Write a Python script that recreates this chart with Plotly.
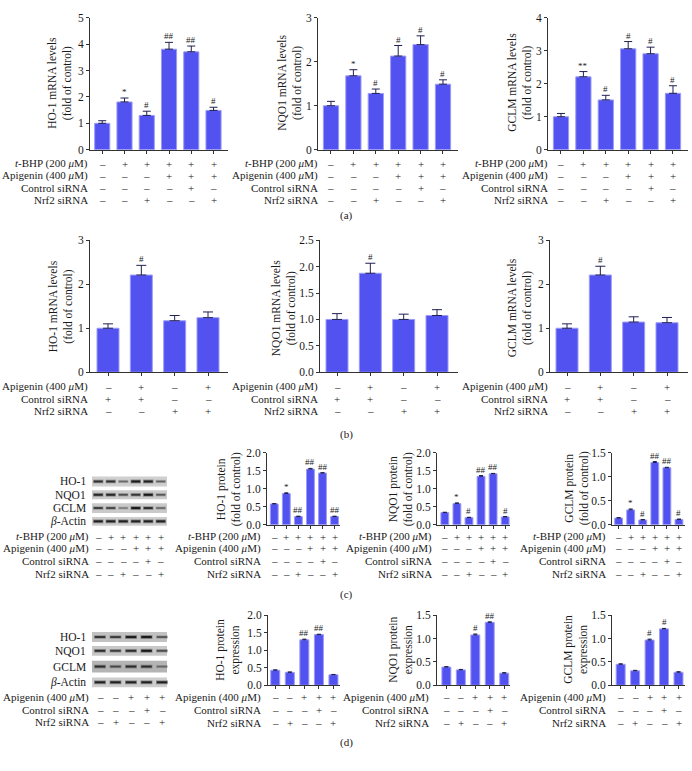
import plotly.graph_objects as go

W, H = 692, 771

# ---------------- data ----------------
# (a) mRNA, t-BHP / apigenin / siRNA
a_ho1_vals = [1.00, 1.81, 1.30, 3.81, 3.71, 1.49]
a_ho1_err = [0.10, 0.15, 0.16, 0.26, 0.22, 0.12]
a_ho1_sig = ["", "*", "#", "##", "##", "#"]
a_nqo1_vals = [1.00, 1.68, 1.28, 2.13, 2.39, 1.49]
a_nqo1_err = [0.10, 0.14, 0.10, 0.24, 0.20, 0.10]
a_nqo1_sig = ["", "*", "#", "#", "#", "#"]
a_gclm_vals = [1.00, 2.21, 1.51, 3.06, 2.91, 1.71]
a_gclm_err = [0.10, 0.16, 0.14, 0.22, 0.20, 0.23]
a_gclm_sig = ["", "**", "#", "#", "#", "#"]

# (b) mRNA, apigenin / siRNA
b_ho1_vals = [1.00, 2.21, 1.17, 1.24]
b_ho1_err = [0.10, 0.22, 0.12, 0.13]
b_nqo1_vals = [1.00, 1.875, 1.00, 1.075]
b_nqo1_err = [0.11, 0.19, 0.10, 0.11]
b_gclm_vals = [1.00, 2.21, 1.14, 1.125]
b_gclm_err = [0.10, 0.20, 0.12, 0.12]
b_sig = ["", "#", "", ""]

# (c) protein, fold of control
c_ho1_vals = [0.58, 0.87, 0.23, 1.55, 1.44, 0.23]
c_ho1_err = [0.01, 0.02, 0.01, 0.02, 0.01, 0.01]
c_ho1_sig = ["", "*", "##", "##", "##", "##"]
c_nqo1_vals = [0.34, 0.59, 0.20, 1.35, 1.42, 0.22]
c_nqo1_err = [0.01, 0.02, 0.01, 0.02, 0.01, 0.01]
c_nqo1_sig = ["", "*", "#", "##", "##", "#"]
c_gclm_vals = [0.14, 0.31, 0.10, 1.30, 1.19, 0.11]
c_gclm_err = [0.01, 0.02, 0.01, 0.02, 0.01, 0.01]
c_gclm_sig = ["", "*", "#", "##", "##", "#"]

# (d) protein expression
d_ho1_vals = [0.43, 0.37, 1.30, 1.45, 0.30]
d_ho1_err = [0.01, 0.01, 0.02, 0.01, 0.01]
d_ho1_sig = ["", "", "##", "##", ""]
d_nqo1_vals = [0.39, 0.33, 1.08, 1.35, 0.26]
d_nqo1_err = [0.01, 0.01, 0.02, 0.01, 0.01]
d_nqo1_sig = ["", "", "#", "##", ""]
d_gclm_vals = [0.45, 0.31, 0.97, 1.21, 0.28]
d_gclm_err = [0.01, 0.01, 0.02, 0.01, 0.01]
d_gclm_sig = ["", "", "#", "#", ""]

# condition labels
tbhp_label = "<i>t</i>-BHP (200 <i>μ</i>M)"
api_label = "Apigenin (400 <i>μ</i>M)"
ctrl_label = "Control siRNA"
nrf2_label = "Nrf2 siRNA"

tbhp_6 = ["–", "+", "+", "+", "+", "+"]
api_6 = ["–", "–", "–", "+", "+", "+"]
ctrl_6 = ["–", "–", "–", "–", "+", "–"]
nrf2_6 = ["–", "–", "+", "–", "–", "+"]

api_b = ["–", "+", "–", "+"]
ctrl_b = ["+", "+", "–", "–"]
nrf2_b = ["–", "–", "+", "+"]

api_5 = ["–", "–", "+", "+", "+"]
ctrl_5 = ["–", "–", "–", "+", "–"]
nrf2_5 = ["–", "+", "–", "–", "+"]

# western blot band intensities (0..1)
blot_labels = ["HO-1", "NQO1", "GCLM", "<i>β</i>-Actin"]
blot_c = [
    [0.80, 0.80, 0.45, 0.95, 0.90, 0.50],
    [0.85, 0.85, 0.60, 0.75, 0.95, 0.55],
    [0.70, 0.65, 0.35, 0.95, 0.80, 0.45],
    [0.90, 0.90, 0.90, 0.90, 0.90, 0.90],
]
blot_d = [
    [0.75, 0.70, 0.90, 0.95, 0.55],
    [0.80, 0.70, 0.80, 0.95, 0.60],
    [0.80, 0.60, 0.80, 0.80, 0.40],
    [0.90, 0.90, 0.90, 0.90, 0.90],
]

# ---------------- styling / layout ----------------
FONT = "Liberation Serif"
BAR = "#5252F0"
EDGE = "#9C9CF7"
ERR = "#202050"
AX = "#333333"
TXT = "#1a1a1a"


def X(p):
    return p / W


def Y(p):
    return 1 - p / H


rows_a = [(tbhp_label, tbhp_6), (api_label, api_6), (ctrl_label, ctrl_6), (nrf2_label, nrf2_6)]
rows_b = [(api_label, api_b), (ctrl_label, ctrl_b), (nrf2_label, nrf2_b)]
rows_d = [(api_label, api_5), (ctrl_label, ctrl_5), (nrf2_label, nrf2_5)]

ry_a = [160, 172.5, 185, 197.5]
ry_b = [387, 399, 411]
ry_c = [539, 551, 564, 577]
ry_d = [702, 715, 728]

charts = [
    dict(v=a_ho1_vals, e=a_ho1_err, s=a_ho1_sig, xd=(90, 228), yd=(12, 146), yr=(0, 5), dt=1, fmt="",
         xr=(-0.55, 5.65), bw=0.68, ew=4, t="HO-1 mRNA levels<br>(fold of control)", tp=(60, 78),
         rows=rows_a, ry=ry_a, lx=90),
    dict(v=a_nqo1_vals, e=a_nqo1_err, s=a_nqo1_sig, xd=(318, 458), yd=(12, 146), yr=(0, 3), dt=1, fmt="",
         xr=(-0.58, 5.67), bw=0.68, ew=4, t="NQO1 mRNA levels<br>(fold of control)", tp=(290, 78),
         rows=rows_a, ry=ry_a, lx=320),
    dict(v=a_gclm_vals, e=a_gclm_err, s=a_gclm_sig, xd=(548, 688), yd=(12, 146), yr=(0, 4), dt=1, fmt="",
         xr=(-0.58, 5.67), bw=0.68, ew=4, t="GCLM mRNA levels<br>(fold of control)", tp=(520, 78),
         rows=rows_a, ry=ry_a, lx=550),
    dict(v=b_ho1_vals, e=b_ho1_err, s=b_sig, xd=(90, 228), yd=(238, 372), yr=(0, 3), dt=1, fmt="",
         xr=(-0.54, 3.6), bw=0.66, ew=5, t="HO-1 mRNA levels<br>(fold of control)", tp=(61, 305),
         rows=rows_b, ry=ry_b, lx=90),
    dict(v=b_nqo1_vals, e=b_nqo1_err, s=b_sig, xd=(320, 458), yd=(238, 372), yr=(0, 2.5), dt=0.5, fmt=".1f",
         xr=(-0.51, 3.63), bw=0.66, ew=5, t="NQO1 mRNA levels<br>(fold of control)", tp=(284, 307),
         rows=rows_b, ry=ry_b, lx=320),
    dict(v=b_gclm_vals, e=b_gclm_err, s=b_sig, xd=(550, 688), yd=(238, 372), yr=(0, 3), dt=1, fmt="",
         xr=(-0.51, 3.63), bw=0.66, ew=5, t="GCLM mRNA levels<br>(fold of control)", tp=(520, 307),
         rows=rows_b, ry=ry_b, lx=550),
    dict(v=c_ho1_vals, e=c_ho1_err, s=c_ho1_sig, xd=(267, 340), yd=(454, 527), yr=(0, 2), dt=0.5, fmt=".1f",
         xr=(-0.6, 5.45), bw=0.65, ew=2, t="HO-1 protein<br>(fold of control)", tp=(229, 491),
         rows=rows_a, ry=ry_c, lx=263),
    dict(v=c_nqo1_vals, e=c_nqo1_err, s=c_nqo1_sig, xd=(437, 510), yd=(454, 527), yr=(0, 2), dt=0.5, fmt=".1f",
         xr=(-0.65, 5.4), bw=0.65, ew=2, t="NQO1 protein<br>(fold of control)", tp=(401, 491),
         rows=rows_a, ry=ry_c, lx=434),
    dict(v=c_gclm_vals, e=c_gclm_err, s=c_gclm_sig, xd=(612, 685), yd=(454, 527), yr=(0, 1.5), dt=0.5, fmt=".1f",
         xr=(-0.55, 5.5), bw=0.65, ew=2, t="GCLM protein<br>(fold of control)", tp=(577, 490),
         rows=rows_a, ry=ry_c, lx=608),
    dict(v=d_ho1_vals, e=d_ho1_err, s=d_ho1_sig, xd=(268, 340), yd=(619, 690), yr=(0, 2), dt=0.5, fmt=".1f",
         xr=(-0.5, 4.45), bw=0.62, ew=2, t="HO-1 protein<br>expression", tp=(228, 654),
         rows=rows_d, ry=ry_d, lx=263),
    dict(v=d_nqo1_vals, e=d_nqo1_err, s=d_nqo1_sig, xd=(437, 510), yd=(619, 690), yr=(0, 1.5), dt=0.5, fmt=".1f",
         xr=(-0.65, 4.4), bw=0.62, ew=2, t="NQO1 protein<br>expression", tp=(401, 654),
         rows=rows_d, ry=ry_d, lx=431),
    dict(v=d_gclm_vals, e=d_gclm_err, s=d_gclm_sig, xd=(612, 685), yd=(619, 690), yr=(0, 1.5), dt=0.5, fmt=".1f",
         xr=(-0.6, 4.45), bw=0.62, ew=2, t="GCLM protein<br>expression", tp=(576, 654),
         rows=rows_d, ry=ry_d, lx=608),
]

fig = go.Figure()
annotations = []
shapes = []
layout_axes = {}

for k, c in enumerate(charts, start=1):
    sfx = "" if k == 1 else str(k)
    xa, ya = "x" + sfx, "y" + sfx
    n = len(c["v"])
    fig.add_trace(go.Bar(
        x=list(range(n)), y=c["v"], width=c["bw"],
        marker=dict(color=BAR, line=dict(color=EDGE, width=1)),
        error_y=dict(type="data", array=c["e"], arrayminus=[0] * n, symmetric=False,
                     color=ERR, thickness=1, width=c["ew"]),
        xaxis=xa, yaxis=ya, showlegend=False, hoverinfo="skip"))
    layout_axes["xaxis" + sfx] = dict(
        domain=[X(c["xd"][0]), X(c["xd"][1])], range=list(c["xr"]), anchor=ya,
        showline=True, linecolor=AX, linewidth=1, ticks="outside", ticklen=3, tickcolor=AX,
        tickmode="array", tickvals=list(range(n)), showticklabels=False,
        showgrid=False, zeroline=False, fixedrange=True)
    layout_axes["yaxis" + sfx] = dict(
        domain=[Y(c["yd"][1]), Y(c["yd"][0])], range=list(c["yr"]), anchor=xa,
        showline=True, linecolor=AX, linewidth=1, ticks="outside", ticklen=3, tickcolor=AX,
        tickmode="linear", tick0=0, dtick=c["dt"], tickformat=c["fmt"],
        tickfont=dict(family=FONT, size=11.5, color=TXT),
        showgrid=False, zeroline=False, fixedrange=True)
    # significance marks
    for i, s in enumerate(c["s"]):
        if s:
            annotations.append(dict(xref=xa, yref=ya, x=i, y=c["v"][i] + c["e"][i], text=s,
                                    showarrow=False, yanchor="bottom", yshift=-1,
                                    font=dict(family=FONT, size=9, color=TXT)))
    # y title
    annotations.append(dict(xref="paper", yref="paper", x=X(c["tp"][0]), y=Y(c["tp"][1]),
                            text=c["t"], textangle=-90, showarrow=False,
                            xanchor="center", yanchor="middle",
                            font=dict(family=FONT, size=11.5, color=TXT)))
    # condition rows
    for r, (lab, signs) in enumerate(c["rows"]):
        yy = Y(c["ry"][r])
        annotations.append(dict(xref="paper", yref="paper", x=X(c["lx"]), y=yy, text=lab,
                                showarrow=False, xanchor="right", yanchor="middle",
                                font=dict(family=FONT, size=11, color=TXT)))
        for i, sg in enumerate(signs):
            annotations.append(dict(xref=xa, yref="paper", x=i, y=yy, text=sg, showarrow=False,
                                    xanchor="center", yanchor="middle",
                                    font=dict(family=FONT, size=11, color=TXT)))


def draw_blot(intens, box_ys, label_ys, lane_x, rows, row_ys, bg_colors, bw):
    bx0, bx1 = 92, 167
    for b, (y0, y1) in enumerate(box_ys):
        shapes.append(dict(type="rect", xref="paper", yref="paper", x0=X(bx0), x1=X(bx1),
                           y0=Y(y1), y1=Y(y0), fillcolor=bg_colors[b], line=dict(width=0), layer="below"))
        yc = (y0 + y1) / 2
        for li, a in enumerate(intens[b]):
            # soft halo + dark core
            for hgt, wid, alpha in [(4.2 * (0.6 + 0.4 * a), bw, 0.35 * a), (2.2 * (0.6 + 0.4 * a), bw - 1.5, a)]:
                shapes.append(dict(type="rect", xref="paper", yref="paper",
                                   x0=X(lane_x[li] - wid / 2), x1=X(lane_x[li] + wid / 2),
                                   y0=Y(yc + hgt / 2), y1=Y(yc - hgt / 2),
                                   fillcolor="rgba(20,20,20,%.2f)" % alpha, line=dict(width=0)))
        annotations.append(dict(xref="paper", yref="paper", x=X(88), y=Y(label_ys[b]), text=blot_labels[b],
                                showarrow=False, xanchor="right", yanchor="middle",
                                font=dict(family=FONT, size=11.5, color=TXT)))
    for r, (lab, signs) in enumerate(rows):
        yy = Y(row_ys[r])
        annotations.append(dict(xref="paper", yref="paper", x=X(91), y=yy, text=lab,
                                showarrow=False, xanchor="right", yanchor="middle",
                                font=dict(family=FONT, size=11, color=TXT)))
        for i, sg in enumerate(signs):
            annotations.append(dict(xref="paper", yref="paper", x=X(lane_x[i]), y=yy, text=sg,
                                    showarrow=False, xanchor="center", yanchor="middle",
                                    font=dict(family=FONT, size=11, color=TXT)))


lanes_c = [98.25 + 12.5 * i for i in range(6)]
lanes_d = [100 + 15.5 * i for i in range(5)]
draw_blot(blot_c, [(478, 488), (492, 501), (505, 515), (519, 528)], [483, 496.5, 510, 523.5],
          lanes_c, rows_a, [539, 551, 564, 577], ["#d0d0d0", "#cbcbcb", "#cacaca", "#cecece"], 10.5)
draw_blot(blot_d, [(636, 646), (650, 660), (665, 677), (682, 692)], [641, 655, 671, 687],
          lanes_d, rows_d, [702, 715, 727], ["#c2c2c2", "#c8c8c8", "#b4b4b4", "#cdcdcd"], 12)

# panel labels
for lab, yy in [("(a)", 213), ("(b)", 435), ("(c)", 598), ("(d)", 748)]:
    annotations.append(dict(xref="paper", yref="paper", x=X(346), y=Y(yy), text=lab, showarrow=False,
                            xanchor="center", yanchor="middle", font=dict(family=FONT, size=11, color=TXT)))

fig.update_layout(
    width=W, height=H, margin=dict(l=0, r=0, t=0, b=0),
    paper_bgcolor="white", plot_bgcolor="white",
    font=dict(family=FONT, size=11, color=TXT),
    bargap=0, annotations=annotations, shapes=shapes, showlegend=False,
    **layout_axes)

fig.write_html("out.html", config={"displayModeBar": False, "staticPlot": True},
               post_script="document.body.style.margin='0';document.body.style.overflow='hidden';")
